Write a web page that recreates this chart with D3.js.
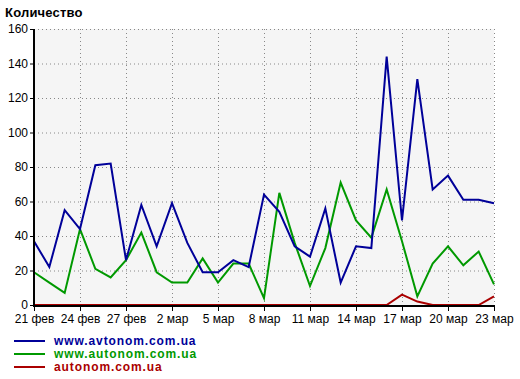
<!DOCTYPE html>
<html><head><meta charset="utf-8">
<script src="https://cdn.jsdelivr.net/npm/d3@7"></script>
<style>body{margin:0;background:#fff}svg{display:block}</style>
</head><body>
<svg id="c" width="520" height="379"></svg>
<script>
const title = "Количество";
const dayLabels = ["21 фев","","","24 фев","","","27 фев","","","2 мар","","","5 мар","","","8 мар","","","11 мар","","","14 мар","","","17 мар","","","20 мар","","","23 мар"];
const avtonomWww = [37,22,55,44,81,82,26,58,34,59,36,19,19,26,22,64,54,34,28,56,13,34,33,144,49,131,67,75,61,61,59];
const autonomWww = [19,13,7,44,21,16,26,42,19,13,13,27,13,24,24,4,65,36,11,33,71,49,39,67,37,5,24,34,23,31,12];
const autonomBare = [0,0,0,0,0,0,0,0,0,0,0,0,0,0,0,0,0,0,0,0,0,0,0,0,6,2,0,0,0,0,5];
const yTicks = [0,20,40,60,80,100,120,140,160];
const seriesNames = ["www.avtonom.com.ua","www.autonom.com.ua","autonom.com.ua"];
const seriesColors = ["#000099","#009900","#aa0000"];

const svg = d3.select("#c");
const L = 34, R = 494, T = 29, B = 305;
const x = d3.scaleLinear().domain([0, dayLabels.length - 1]).range([L, R]);
const y = d3.scaleLinear().domain([0, 160]).range([B, T]);
const font = "'Liberation Sans', Arial, sans-serif";

svg.append("rect").attr("x", L).attr("y", T).attr("width", R - L).attr("height", B - T).attr("fill", "#f5f5f5");

const tickIdx = d3.range(0, dayLabels.length, 3);
// grid
svg.append("g").selectAll("line").data(yTicks.slice(1)).join("line")
  .attr("x1", L).attr("x2", R).attr("y1", d => y(d) + 0.5).attr("y2", d => y(d) + 0.5)
  .attr("stroke", "#888").attr("stroke-width", 1).attr("stroke-dasharray", "1,3");
svg.append("g").selectAll("line").data(tickIdx.slice(1)).join("line")
  .attr("x1", d => Math.round(x(d)) + 0.5).attr("x2", d => Math.round(x(d)) + 0.5).attr("y1", T).attr("y2", B)
  .attr("stroke", "#888").attr("stroke-width", 1).attr("stroke-dasharray", "1,3");

// axes
const yAxis = d3.axisLeft(y).tickValues(yTicks).tickSize(4).tickPadding(2);
const gy = svg.append("g").attr("transform", `translate(${L},0)`).call(yAxis);
gy.select(".domain").remove();
gy.selectAll("text").attr("font-family", font).attr("font-size", 12).attr("fill", "#000");

const xAxis = d3.axisBottom(x).tickValues(tickIdx).tickFormat(i => dayLabels[i]).tickSize(5).tickPadding(3);
const gx = svg.append("g").attr("transform", `translate(0,${B + 1})`).call(xAxis);
gx.select(".domain").remove();
gx.selectAll("text").attr("font-family", font).attr("font-size", 12).attr("fill", "#000");

// series lines
const line = d3.line().x((d, i) => x(i)).y(d => y(d));
const all = [avtonomWww, autonomWww, autonomBare];
[2, 1, 0].forEach(k => {
  svg.append("path").datum(all[k]).attr("d", line).attr("fill", "none")
    .attr("stroke", seriesColors[k]).attr("stroke-width", 2).attr("stroke-linejoin", "miter");
});

// axis lines
svg.append("line").attr("x1", L).attr("x2", L).attr("y1", T).attr("y2", B + 2).attr("stroke", "#000").attr("stroke-width", 2);
svg.append("line").attr("x1", L - 1).attr("x2", R + 1).attr("y1", B + 1).attr("y2", B + 1).attr("stroke", "#000").attr("stroke-width", 2);

// title
svg.append("text").attr("x", 5).attr("y", 17).text(title)
  .attr("font-family", font).attr("font-size", 13).attr("font-weight", "bold").attr("letter-spacing", 0.2);

// legend
const lg = svg.append("g").selectAll("g").data(seriesNames).join("g")
  .attr("transform", (d, i) => `translate(0,${341 + i * 13})`);
lg.append("line").attr("x1", 14).attr("x2", 45).attr("y1", 0).attr("y2", 0)
  .attr("stroke", (d, i) => seriesColors[i]).attr("stroke-width", 2);
lg.append("text").attr("x", 54).attr("y", 4).text(d => d)
  .attr("fill", (d, i) => seriesColors[i]).attr("font-family", font).attr("font-size", 12).attr("font-weight", "bold")
  .attr("letter-spacing", 0.9);
</script>
</body></html>
